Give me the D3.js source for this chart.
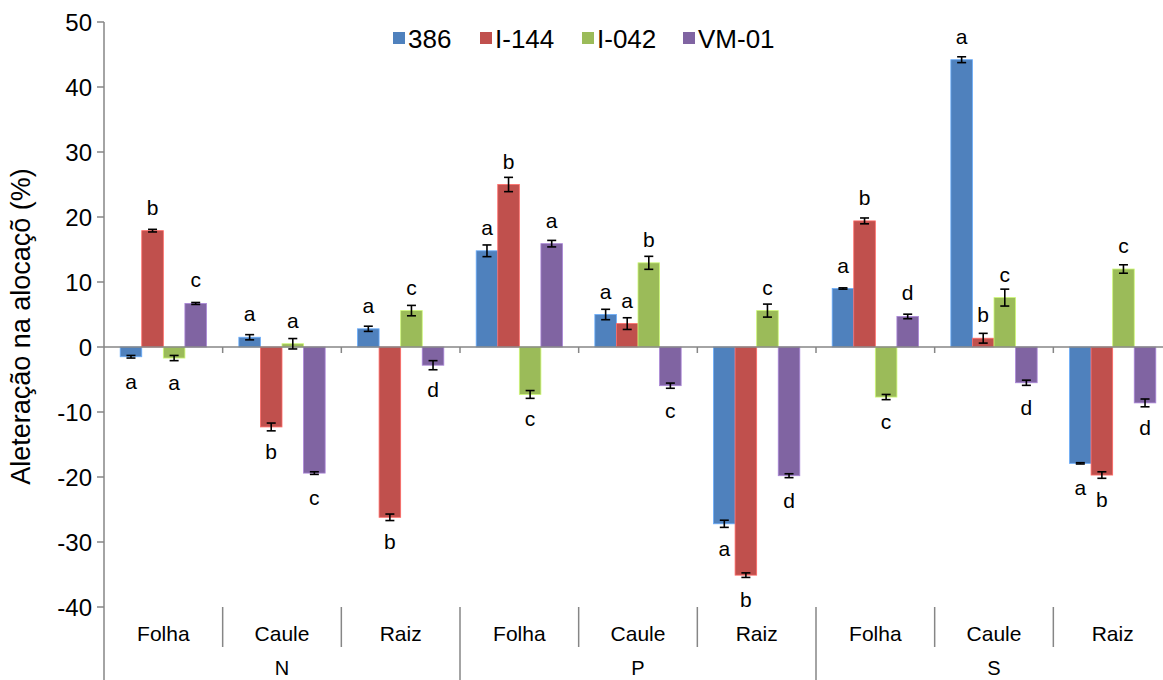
<!DOCTYPE html>
<html><head><meta charset="utf-8">
<script src="https://cdn.jsdelivr.net/npm/d3@7"></script>
<style>body{margin:0;background:#fff}svg{display:block;font-family:"Liberation Sans",Arial,sans-serif}</style>
</head><body><div id="chart"></div>
<script>
const nutrients = ["N", "P", "S"];
const organs = ["Folha", "Caule", "Raiz"];
const seriesNames = ["386", "I-144", "I-042", "VM-01"];
const colors = ["#4F81BD", "#C0504D", "#9BBB59", "#8064A2"];
const yTicks = [50, 40, 30, 20, 10, 0, -10, -20, -30, -40];

const v386  = [-1.5, 1.5, 2.8, 14.8, 5.0, -27.2, 9.0, 44.2, -17.9];
const vI144 = [17.9, -12.3, -26.2, 25.0, 3.6, -35.1, 19.4, 1.35, -19.7];
const vI042 = [-1.7, 0.5, 5.6, -7.3, 12.95, 5.6, -7.7, 7.6, 12.0];
const vVM01 = [6.7, -19.4, -2.8, 15.9, -5.95, -19.8, 4.7, -5.5, -8.6];

const e386  = [0.2, 0.4, 0.4, 0.9, 0.8, 0.55, 0.1, 0.45, 0.1];
const eI144 = [0.2, 0.6, 0.5, 1.1, 0.9, 0.35, 0.45, 0.75, 0.5];
const eI042 = [0.4, 0.8, 0.8, 0.6, 1.0, 1.0, 0.4, 1.3, 0.65];
const eVM01 = [0.15, 0.2, 0.7, 0.5, 0.4, 0.3, 0.35, 0.4, 0.6];

const l386  = ["a","a","a","a","a","a","a","a","a"];
const lI144 = ["b","b","b","b","a","b","b","b","b"];
const lI042 = ["a","a","c","c","b","c","c","c","c"];
const lVM01 = ["c","c","d","a","c","d","d","d","d"];

const values = [v386, vI144, vI042, vVM01];
const errors = [e386, eI144, eI042, eVM01];
const letters = [l386, lI144, lI042, lVM01];

const categories = [];
nutrients.forEach(n => organs.forEach(o => categories.push(n + "|" + o)));

const W = 1163, H = 680;
const pLeft = 104, pRight = 1172, pTop = 22, pBottom = 607;
const svg = d3.select("#chart").append("svg").attr("width", W).attr("height", H);

const y = d3.scaleLinear().domain([-40, 50]).range([pBottom, pTop]);
const x = d3.scaleBand().domain(categories).range([pLeft, pRight]).paddingInner(0).paddingOuter(0);
const bw = x.bandwidth() / 5.5;
const xs = d3.scaleBand().domain(seriesNames).range([bw * 0.75, bw * 4.75]);

const axisColor = "#868686";

const data = [];
seriesNames.forEach((s, si) => categories.forEach((c, ci) => {
  data.push({s, si, c, v: values[si][ci], e: errors[si][ci], l: letters[si][ci]});
}));

const g = svg.append("g");
g.selectAll("rect.bar").data(data).enter().append("rect")
  .attr("x", d => x(d.c) + xs(d.s))
  .attr("width", xs.bandwidth())
  .attr("y", d => Math.min(y(d.v), y(0)))
  .attr("height", d => Math.abs(y(d.v) - y(0)))
  .attr("fill", d => colors[d.si])
  .attr("stroke", d => d3.color(colors[d.si]).brighter(0.8))
  .attr("stroke-width", 0.8);

svg.append("line").attr("x1", pLeft).attr("x2", W).attr("y1", y(0)).attr("y2", y(0))
  .attr("stroke", axisColor).attr("stroke-width", 1.5);
categories.forEach((c, i) => {
  if (i === 0) return;
  svg.append("line").attr("x1", x(c)).attr("x2", x(c)).attr("y1", y(0)).attr("y2", y(0) + 6)
    .attr("stroke", axisColor).attr("stroke-width", 1.5);
});

const eb = svg.append("g").attr("stroke", "#000").attr("stroke-width", 1.6);
data.forEach(d => {
  const cx = x(d.c) + xs(d.s) + xs.bandwidth() / 2;
  const y1 = y(d.v + d.e), y2 = y(d.v - d.e);
  eb.append("line").attr("x1", cx).attr("x2", cx).attr("y1", y1).attr("y2", y2);
  eb.append("line").attr("x1", cx - 4.5).attr("x2", cx + 4.5).attr("y1", y1).attr("y2", y1);
  eb.append("line").attr("x1", cx - 4.5).attr("x2", cx + 4.5).attr("y1", y2).attr("y2", y2);
});

svg.append("g").selectAll("text").data(data).enter().append("text")
  .attr("x", d => x(d.c) + xs(d.s) + xs.bandwidth() / 2)
  .attr("y", d => d.v >= 0 ? y(d.v) - 16 : y(d.v) + 32)
  .attr("text-anchor", "middle").attr("font-size", 21).attr("fill", "#000")
  .text(d => d.l);

svg.append("line").attr("x1", pLeft).attr("x2", pLeft).attr("y1", pTop).attr("y2", H)
  .attr("stroke", axisColor).attr("stroke-width", 1.5);
const yg = svg.append("g");
yTicks.forEach(t => {
  yg.append("line").attr("x1", pLeft - 7).attr("x2", pLeft).attr("y1", y(t)).attr("y2", y(t))
    .attr("stroke", axisColor).attr("stroke-width", 1.5);
  yg.append("text").attr("x", pLeft - 12).attr("y", y(t)).attr("dy", "0.36em")
    .attr("text-anchor", "end").attr("font-size", 24).attr("fill", "#000").text(t);
});

svg.append("text").attr("transform", `translate(30,${(pTop + pBottom) / 2 + 12}) rotate(-90)`)
  .attr("text-anchor", "middle").attr("font-size", 27).attr("fill", "#000")
  .text("Aleteração na alocaçõ (%)");

categories.forEach((c, i) => {
  const isMajor = i % 3 === 0;
  if (i > 0) {
    svg.append("line").attr("x1", x(c)).attr("x2", x(c)).attr("y1", pBottom)
      .attr("y2", isMajor ? H : 647).attr("stroke", axisColor).attr("stroke-width", 1.5);
  }
  svg.append("text").attr("x", x(c) + x.bandwidth() / 2).attr("y", 641)
    .attr("text-anchor", "middle").attr("font-size", 21).attr("fill", "#000")
    .text(organs[i % 3]);
});
nutrients.forEach((n, ni) => {
  const x0 = x(n + "|Folha"), x1 = x(n + "|Raiz") + x.bandwidth();
  svg.append("text").attr("x", (x0 + x1) / 2).attr("y", 675)
    .attr("text-anchor", "middle").attr("font-size", 20).attr("fill", "#000").text(n);
});

const legX = [393, 480, 582, 683];
const lg = svg.append("g");
seriesNames.forEach((s, i) => {
  lg.append("rect").attr("x", legX[i]).attr("y", 32).attr("width", 12).attr("height", 12).attr("fill", colors[i]);
  lg.append("text").attr("x", legX[i] + 15).attr("y", 48).attr("font-size", 26).attr("fill", "#000").text(s);
});
</script></body></html>
